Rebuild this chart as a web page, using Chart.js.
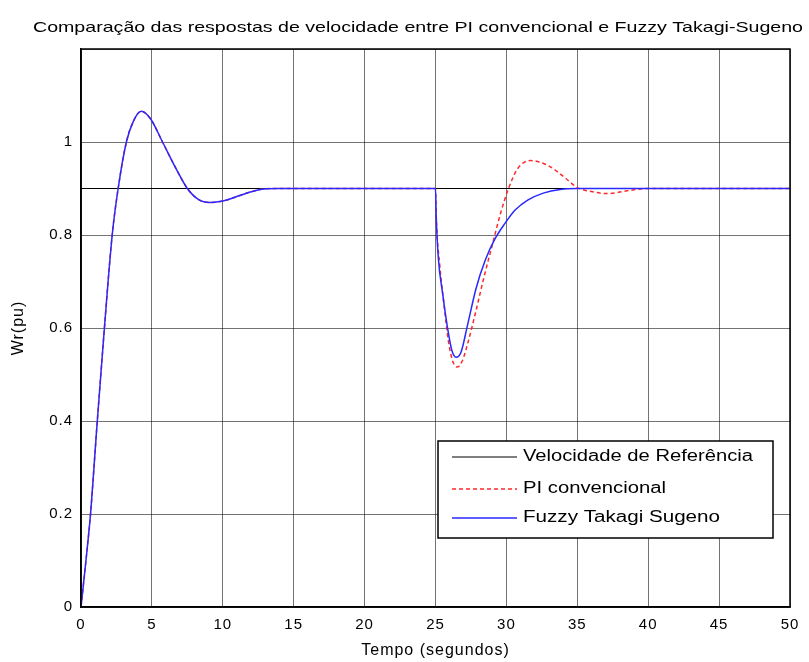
<!DOCTYPE html>
<html>
<head>
<meta charset="utf-8">
<script src="https://cdn.jsdelivr.net/npm/chart.js@4.4.0/dist/chart.umd.min.js"></script>
<style>
    html, body { margin: 0; padding: 0; background: #fff; }
</style>
</head>
<body>
<canvas id="speed-chart" width="809" height="662"></canvas>
<script>
// Reference speed (constant)
var tRef = [0, 50];
var wRef = [0.9, 0.9];

// PI convencional
var tPI = [0, 0.35, 0.7, 1.1, 1.6, 2.2, 2.62, 3.2, 3.7, 4.25, 4.9, 5.75, 6.75, 7.5, 8.3, 9.1, 10.0, 11.2, 12.0, 12.9, 14,
           25, 25.05, 25.3, 25.6, 25.9, 26.2, 26.55, 26.9, 27.3, 27.8, 28.4, 29.0, 29.6, 30.15, 30.8, 31.7, 32.9, 34.1, 35.0, 35.9, 37.1, 38.5, 40, 50];
var wPI = [0, 0.1, 0.21, 0.38, 0.58, 0.8, 0.9, 1.0, 1.045, 1.066, 1.05, 1.0, 0.94, 0.9, 0.876, 0.87, 0.873, 0.885, 0.893, 0.899, 0.9,
           0.9, 0.84, 0.735, 0.65, 0.574, 0.53, 0.516, 0.53, 0.57, 0.63, 0.707, 0.778, 0.848, 0.9, 0.943, 0.96, 0.95, 0.924, 0.902, 0.894, 0.889, 0.895, 0.9, 0.9];

// Fuzzy Takagi Sugeno
var tFuzzy = [0, 0.35, 0.7, 1.1, 1.6, 2.2, 2.62, 3.2, 3.7, 4.25, 4.9, 5.75, 6.75, 7.5, 8.3, 9.1, 10.0, 11.2, 12.0, 12.9, 14,
              25, 25.05, 25.2, 25.5, 25.85, 26.15, 26.45, 26.8, 27.25, 27.85, 28.5, 29.2, 29.9, 30.6, 31.5, 32.6, 33.8, 35, 50];
var wFuzzy = [0, 0.1, 0.21, 0.38, 0.58, 0.8, 0.9, 1.0, 1.045, 1.066, 1.05, 1.0, 0.94, 0.9, 0.876, 0.87, 0.873, 0.885, 0.893, 0.899, 0.9,
              0.9, 0.84, 0.75, 0.675, 0.6, 0.552, 0.537, 0.548, 0.605, 0.684, 0.745, 0.792, 0.825, 0.853, 0.875, 0.89, 0.898, 0.9, 0.9];

var xTicks = [0, 5, 10, 15, 20, 25, 30, 35, 40, 45, 50];

var FONT = "'Liberation Sans', Arial, sans-serif";

function toPoints(ts, ws) {
    var pts = [];
    for (var i = 0; i < ts.length; i++) pts.push({ x: ts[i], y: ws[i] });
    return pts;
}

// draw text squeezed/stretched to a given width (the source figure is stretched)
function fitText(ctx, text, x, y, width) {
    var w = ctx.measureText(text).width;
    ctx.save();
    ctx.translate(x, y);
    ctx.scale(width / w, 1);
    ctx.textAlign = 'left';
    ctx.fillText(text, 0, 0);
    ctx.restore();
}

var framePlugin = {
    id: 'frame',
    beforeDraw: function(chart) {
        chart.ctx.letterSpacing = '1px';
    },
    afterDraw: function(chart) {
        var ctx = chart.ctx;
        var a = chart.chartArea;
        ctx.save();
        ctx.letterSpacing = '0px';

        // box around the axes
        ctx.strokeStyle = '#000';
        ctx.lineWidth = 1.5;
        ctx.strokeRect(a.left, a.top, a.right - a.left, a.bottom - a.top);

        // title
        ctx.fillStyle = '#000';
        ctx.font = '15px ' + FONT;
        ctx.textBaseline = 'middle';
        fitText(ctx, 'Comparação das respostas de velocidade entre PI convencional e Fuzzy Takagi-Sugeno', 33, 28, 770);

        // legend box
        var lx = 438, ly = 441, lw = 335, lh = 97;
        ctx.fillStyle = '#fff';
        ctx.fillRect(lx, ly, lw, lh);
        ctx.strokeStyle = '#000';
        ctx.lineWidth = 1.5;
        ctx.strokeRect(lx, ly, lw, lh);

        var rows = [457, 489, 518];
        var widths = [230, 143, 197];
        chart.data.datasets.forEach(function(ds, i) {
            var y = rows[i];
            ctx.save();
            ctx.strokeStyle = ds.borderColor;
            ctx.lineWidth = ds.borderWidth;
            ctx.setLineDash(ds.borderDash || []);
            ctx.beginPath();
            ctx.moveTo(452, y);
            ctx.lineTo(517, y);
            ctx.stroke();
            ctx.restore();
            ctx.fillStyle = '#000';
            ctx.font = '16px ' + FONT;
            ctx.textBaseline = 'middle';
            fitText(ctx, ds.label, 523, y, widths[i]);
        });
        ctx.restore();
    }
};

var ctx = document.getElementById('speed-chart').getContext('2d');
var chart = new Chart(ctx, {
    type: 'line',
    data: {
        datasets: [
            {
                label: 'Velocidade de Referência',
                data: toPoints(tRef, wRef),
                borderColor: '#000000',
                borderWidth: 1.2,
                pointRadius: 0,
                fill: false,
                order: 3
            },
            {
                label: 'PI convencional',
                data: toPoints(tPI, wPI),
                borderColor: 'rgb(255, 40, 40)',
                borderWidth: 1.5,
                borderDash: [4, 3],
                pointRadius: 0,
                cubicInterpolationMode: 'monotone',
                fill: false,
                order: 2
            },
            {
                label: 'Fuzzy Takagi Sugeno',
                data: toPoints(tFuzzy, wFuzzy),
                borderColor: 'rgb(40, 40, 255)',
                borderWidth: 1.5,
                pointRadius: 0,
                cubicInterpolationMode: 'monotone',
                fill: false,
                order: 1
            }
        ]
    },
    options: {
        responsive: false,
        animation: false,
        layout: { padding: { top: 49, right: 19, left: 0, bottom: 0 } },
        plugins: {
            legend: { display: false },
            title: { display: false },
            tooltip: { enabled: false }
        },
        scales: {
            x: {
                type: 'linear',
                min: 0,
                max: 50,
                afterBuildTicks: function(scale) {
                    scale.ticks = xTicks.map(function(v) { return { value: v }; });
                },
                afterFit: function(scale) { scale.height = 55; },
                grid: { color: 'rgba(0,0,0,0.55)', lineWidth: 1, drawTicks: false },
                border: { color: '#000', width: 1.5 },
                ticks: {
                    color: '#000',
                    font: { family: FONT, size: 15 },
                    padding: 9,
                    maxRotation: 0,
                    autoSkip: false
                },
                title: {
                    display: true,
                    text: 'Tempo (segundos)',
                    color: '#000',
                    font: { family: FONT, size: 16 },
                    padding: { top: 0, bottom: 2 }
                }
            },
            y: {
                min: 0,
                max: 1.2,
                afterFit: function(scale) { scale.width = 81; },
                grid: { color: 'rgba(0,0,0,0.55)', lineWidth: 1, drawTicks: false },
                border: { color: '#000', width: 1.5 },
                ticks: {
                    stepSize: 0.2,
                    color: '#000',
                    font: { family: FONT, size: 15 },
                    padding: 8,
                    callback: function(v) {
                        if (v > 1.1) return '';
                        return String(Math.round(v * 10) / 10);
                    }
                },
                title: {
                    display: true,
                    text: 'Wr(pu)',
                    color: '#000',
                    font: { family: FONT, size: 16 },
                    padding: { top: 9, bottom: 0 }
                }
            }
        }
    },
    plugins: [framePlugin]
});
</script>
</body>
</html>
